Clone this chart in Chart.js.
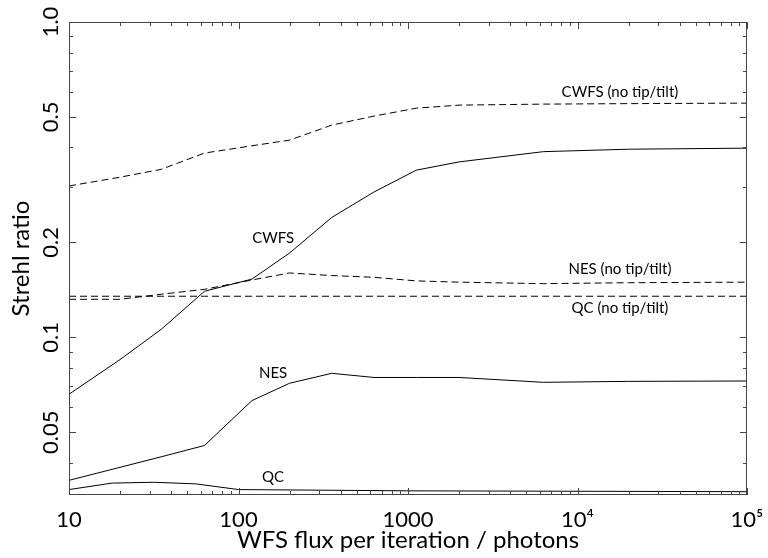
<!DOCTYPE html>
<html>
<head>
<meta charset="utf-8">
<script src="https://cdn.jsdelivr.net/npm/chart.js@4"></script>
<style>
  body { margin: 0; background: #fff; }
  canvas { display: block; }
</style>
</head>
<body>
<canvas id="strehl" width="768" height="558"></canvas>
<script>
// flux grid (photons per iteration)
const flux = [10, 20, 35, 63, 120, 200, 355, 630, 1120, 2000, 6300, 20000, 100000];
const qcFlux = [10, 18, 32, 56, 100, 1000, 100000];

// Strehl ratio per sensor
const cwfs = [0.066, 0.085, 0.106, 0.140, 0.153, 0.185, 0.240, 0.289, 0.339, 0.360, 0.388, 0.395, 0.398];
const cwfsNoTT = [0.302, 0.322, 0.341, 0.384, 0.405, 0.422, 0.471, 0.503, 0.533, 0.545, 0.549, 0.551, 0.553];
const nes = [0.0352, 0.0387, 0.0418, 0.0454, 0.063, 0.0715, 0.0769, 0.0746, 0.0746, 0.0746, 0.072, 0.0725, 0.0727];
const nesNoTT = [0.132, 0.132, 0.137, 0.142, 0.152, 0.160, 0.157, 0.155, 0.151, 0.1496, 0.148, 0.149, 0.1496];
const qcNoTT = [0.135, 0.135, 0.135, 0.135, 0.135, 0.135, 0.135, 0.135, 0.135, 0.135, 0.135, 0.135, 0.135];
const qc = [0.0329, 0.0345, 0.0347, 0.0343, 0.0329, 0.0326, 0.0324];

// ticks
const xMajor = [10, 100, 1000, 10000, 100000];
const xLabels = ["10", "100", "1000", "10\u2074", "10\u2075"];
const xMinor = [20, 30, 40, 50, 60, 70, 80, 90, 200, 300, 400, 500, 600, 700, 800, 900,
  2000, 3000, 4000, 5000, 6000, 7000, 8000, 9000, 20000, 30000, 40000, 50000, 60000, 70000, 80000, 90000];
const yMajor = [0.05, 0.1, 0.2, 0.5, 1.0];
const yLabels = ["0.05", "0.1", "0.2", "0.5", "1.0"];
const yMinor = [0.04, 0.06, 0.07, 0.08, 0.09, 0.3, 0.4, 0.6, 0.7, 0.8, 0.9];

// curve labels
const noteText = ["CWFS (no tip/tilt)", "NES (no tip/tilt)", "QC (no tip/tilt)", "CWFS", "NES", "QC"];
const noteX = [17800, 17800, 17800, 160, 160, 160];
const noteY = [0.60, 0.164, 0.1236, 0.206, 0.0769, 0.036];

const pts = (xs, ys) => xs.map((x, i) => ({ x: x, y: ys[i] }));

function tickList(major, minor) {
  return major.map(v => ({ value: v, major: true }))
    .concat(minor.map(v => ({ value: v, major: false })))
    .sort((a, b) => a.value - b.value);
}

function line(data, dashed) {
  return {
    data: data,
    borderColor: "#000",
    borderWidth: 1,
    borderDash: dashed ? [7, 4] : [],
    pointRadius: 0,
    tension: 0,
    fill: false
  };
}

/* frame, inward ticks and curve labels */
const framePlugin = {
  id: "frame",
  afterDatasetsDraw(chart) {
    const { ctx, chartArea: a, scales: { x, y } } = chart;
    ctx.save();
    ctx.strokeStyle = "#444";
    ctx.lineWidth = 1;
    ctx.strokeRect(a.left + 0.5, a.top + 0.5, a.right - a.left - 1, a.bottom - a.top - 1);
    ctx.beginPath();
    x.ticks.forEach(t => {
      const p = Math.round(x.getPixelForValue(t.value)) + 0.5;
      const len = t.major ? 7 : 4;
      ctx.moveTo(p, a.bottom); ctx.lineTo(p, a.bottom - len);
      ctx.moveTo(p, a.top); ctx.lineTo(p, a.top + len);
    });
    y.ticks.forEach(t => {
      const p = Math.round(y.getPixelForValue(t.value)) + 0.5;
      const len = t.major ? 7 : 4;
      ctx.moveTo(a.left, p); ctx.lineTo(a.left + len, p);
      ctx.moveTo(a.right, p); ctx.lineTo(a.right - len, p);
    });
    ctx.stroke();

    ctx.fillStyle = "#000";
    ctx.font = "15px Lato";
    ctx.textAlign = "center";
    ctx.textBaseline = "middle";
    noteText.forEach((s, i) => {
      ctx.fillText(s, x.getPixelForValue(noteX[i]), y.getPixelForValue(noteY[i]));
    });
    ctx.restore();
  }
};

new Chart(document.getElementById("strehl"), {
  type: "line",
  data: {
    datasets: [
      line(pts(flux, cwfsNoTT), true),
      line(pts(flux, nesNoTT), true),
      line(pts(flux, qcNoTT), true),
      line(pts(flux, cwfs), false),
      line(pts(flux, nes), false),
      line(pts(qcFlux, qc), false)
    ]
  },
  options: {
    responsive: false,
    devicePixelRatio: 1,
    animation: false,
    layout: { padding: { top: 22, right: 21, left: 0, bottom: 0 } },
    plugins: { legend: { display: false }, tooltip: { enabled: false } },
    scales: {
      x: {
        type: "logarithmic",
        min: 10,
        max: 100000,
        grid: { display: false },
        border: { display: false },
        afterBuildTicks: s => { s.ticks = tickList(xMajor, xMinor); },
        afterFit: s => { s.height = 63; },
        ticks: {
          autoSkip: false,
          maxRotation: 0,
          padding: 4,
          color: "#000",
          font: { family: "Lato", size: 22 },
          callback: v => { const i = xMajor.indexOf(v); return i >= 0 ? xLabels[i] : ""; }
        },
        title: {
          display: true,
          text: "WFS flux per iteration / photons",
          color: "#000",
          font: { family: "Lato", size: 24 },
          padding: { top: 0, bottom: 3 }
        }
      },
      y: {
        type: "logarithmic",
        min: Math.pow(10, -1.5),
        max: 1,
        grid: { display: false },
        border: { display: false },
        afterBuildTicks: s => { s.ticks = tickList(yMajor, yMinor); },
        afterFit: s => { s.width = 69; },
        ticks: {
          autoSkip: false,
          minRotation: 90,
          maxRotation: 90,
          crossAlign: "center",
          padding: -12,
          color: "#000",
          font: { family: "Lato", size: 22 },
          callback: v => { const i = yMajor.indexOf(v); return i >= 0 ? yLabels[i] : ""; }
        },
        title: {
          display: true,
          text: "Strehl ratio",
          color: "#000",
          font: { family: "Lato", size: 24 },
          padding: { top: 7, bottom: 0 }
        }
      }
    }
  },
  plugins: [framePlugin]
});
</script>
</body>
</html>
